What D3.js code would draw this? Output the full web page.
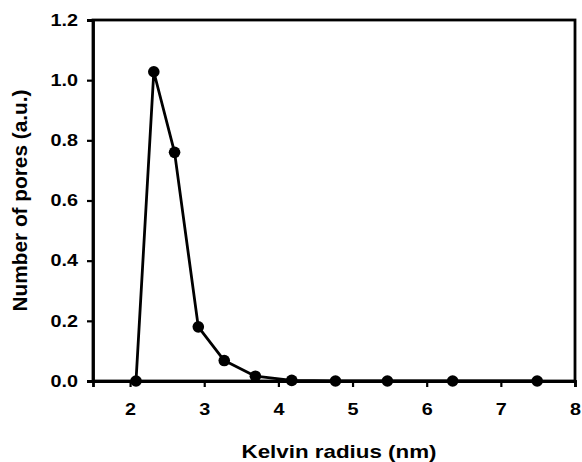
<!DOCTYPE html>
<html><head><meta charset="utf-8">
<script src="https://cdn.jsdelivr.net/npm/d3@7"></script>
<style>body{margin:0;background:#fff}svg{display:block}</style>
</head><body>
<script>
const radius = [2.08, 2.32, 2.60, 2.92, 3.27, 3.69, 4.18, 4.77, 5.47, 6.35, 7.49];
const pores  = [0.0, 1.028, 0.76, 0.18, 0.068, 0.016, 0.002, 0.0, 0.0, 0.0, 0.0];
const xTicks = [2, 3, 4, 5, 6, 7, 8];
const yTicks = [0, 0.2, 0.4, 0.6, 0.8, 1.0, 1.2];
const xTitle = "Kelvin radius (nm)";
const yTitle = "Number of pores (a.u.)";

const W = 582, H = 462;
const m = {left: 93, right: 7, top: 20, bottom: 81};
const svg = d3.select("body").append("svg").attr("width", W).attr("height", H);
const x = d3.scaleLinear().domain([1.5, 8]).range([m.left, W - m.right]);
const y = d3.scaleLinear().domain([0, 1.2]).range([H - m.bottom, m.top]);
const font = "'Liberation Sans', Arial, sans-serif";
const sx = 1.2;

svg.append("rect").attr("x", x(1.5)).attr("y", y(1.2))
  .attr("width", x(8) - x(1.5)).attr("height", y(0) - y(1.2))
  .attr("fill", "none").attr("stroke", "#000").attr("stroke-width", 2.8);

const xa = svg.append("g").attr("transform", `translate(0,${y(0)})`)
  .call(d3.axisBottom(x).tickValues(xTicks).tickFormat(d3.format("d")).tickSize(6).tickPadding(16.3));
const ya = svg.append("g").attr("transform", `translate(${x(1.5)},0)`)
  .call(d3.axisLeft(y).tickValues(yTicks).tickFormat(d3.format(".1f")).tickSize(6).tickPadding(9));
[xa, ya].forEach(a => {
  a.select(".domain").attr("stroke", "#000").attr("stroke-width", 2.8);
  a.selectAll(".tick line").attr("stroke", "#000").attr("stroke-width", 2.2);
  a.selectAll("text").attr("fill", "#000").style("font-family", font)
    .style("font-weight", "bold").style("font-size", "16.5px");
});
ya.selectAll(".tick text").attr("x", -15 / sx).attr("transform", `scale(${sx},1)`);
xa.selectAll(".tick text").attr("transform", `scale(${sx},1)`);

const line = d3.line().x((d, i) => x(radius[i])).y(d => y(d));
svg.append("path").datum(pores).attr("d", line)
  .attr("fill", "none").attr("stroke", "#000").attr("stroke-width", 2.8).attr("stroke-linejoin", "round");
svg.selectAll("circle.pt").data(pores).join("circle").attr("class", "pt")
  .attr("cx", (d, i) => x(radius[i])).attr("cy", d => y(d)).attr("r", 5.8).attr("fill", "#000");

svg.append("text").attr("x", 339).attr("y", 458)
  .attr("text-anchor", "middle").style("font-family", font).style("font-weight", "bold")
  .style("font-size", "19px").attr("textLength", 195).attr("lengthAdjust", "spacingAndGlyphs").text(xTitle);
svg.append("text").attr("transform", `translate(27,${(y(0) + y(1.2)) / 2}) rotate(-90)`)
  .attr("text-anchor", "middle").style("font-family", font).style("font-weight", "bold")
  .style("font-size", "20px").attr("textLength", 222).attr("lengthAdjust", "spacingAndGlyphs").text(yTitle);
</script>
</body></html>
